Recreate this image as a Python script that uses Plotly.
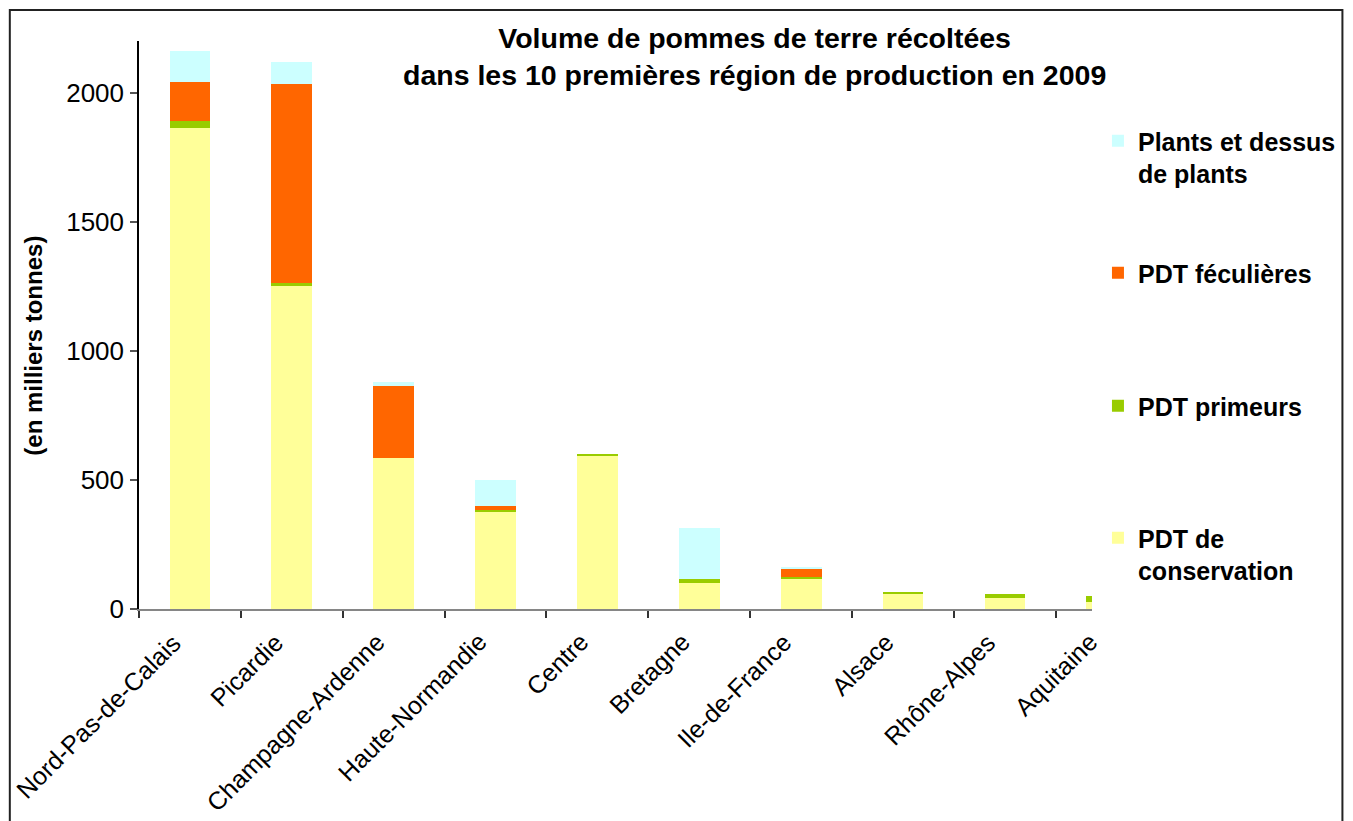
import plotly.graph_objects as go

# ---- data (milliers de tonnes) ----
regions = ["Nord-Pas-de-Calais", "Picardie", "Champagne-Ardenne", "Haute-Normandie",
           "Centre", "Bretagne", "Ile-de-France", "Alsace", "Rhône-Alpes", "Aquitaine"]
conservation = [1864, 1252, 585, 376, 593, 101, 116, 58, 43, 27]
primeurs = [25, 12, 0, 8, 8, 15, 8, 8, 15, 23]
feculieres = [154, 771, 279, 15, 0, 0, 31, 0, 0, 0]
plants = [120, 85, 16, 101, 0, 198, 8, 0, 0, 0]

series_names = ["PDT de<br>conservation", "PDT primeurs", "PDT féculières",
                "Plants et dessus<br>de plants"]
series_values = [conservation, primeurs, feculieres, plants]
series_colors = ["#FFFF99", "#99CC00", "#FF6600", "#CCFFFF"]
series_legends = ["legend4", "legend3", "legend2", "legend"]

title_lines = ["Volume de pommes de terre récoltées",
               "dans les 10 premières région de production en 2009"]
y_title = "(en milliers tonnes)"
y_ticks = [0, 500, 1000, 1500, 2000]

# ---- geometry (screen pixels; page body has an 8px margin) ----
OFF = 8
W, H = 1353 - OFF, 821 - OFF
L, R, T, B = 139, 1098, 41, 609
X_RANGE = [-0.5, 8.855]


def px2x(px):
    return (px - L) / (R - L)


def py2y(py):
    return (B - py) / (B - T)


FONT = "Liberation Sans, Arial, sans-serif"

fig = go.Figure()
for name, vals, col, lg in zip(series_names, series_values, series_colors, series_legends):
    fig.add_trace(go.Bar(
        x=regions, y=vals, name=name, width=0.4,
        marker=dict(color=col, line=dict(width=0)),
        legend=lg,
    ))

legend_common = dict(
    xanchor="left", yanchor="top", valign="top",
    font=dict(family=FONT, size=25, color="black", weight="bold"),
    bgcolor="rgba(0,0,0,0)", borderwidth=0,
)
legend_tops = {"legend": 118, "legend2": 250, "legend3": 383, "legend4": 515}

annotations = []
# title
annotations.append(dict(
    text="<br>".join(title_lines), xref="paper", yref="paper",
    x=px2x(758), y=py2y(56.5), xanchor="center", yanchor="middle",
    showarrow=False, align="center",
    font=dict(family=FONT, size=28.5, color="black", weight="bold"),
))
# y title
annotations.append(dict(
    text=y_title, xref="paper", yref="paper",
    x=px2x(32), y=py2y(346), xanchor="center", yanchor="middle",
    textangle=-90, showarrow=False,
    font=dict(family=FONT, size=24, color="black", weight="bold"),
))
# category labels (the last category sits beyond the clipped plot edge,
# so labels are placed from the category index along the axis range)
span = X_RANGE[1] - X_RANGE[0]
for i, r in enumerate(regions):
    annotations.append(dict(
        text=r, x=(i - X_RANGE[0]) / span, xref="paper", y=0, yref="paper",
        xanchor="right", yanchor="top", textangle=-45,
        xshift=-1, yshift=-16, showarrow=False,
        font=dict(family=FONT, size=25, color="black"),
    ))

layout = dict(
    width=W, height=H,
    margin=dict(l=L - OFF, r=W - (R - OFF), t=T - OFF, b=H - (B - OFF), pad=0),
    paper_bgcolor="white", plot_bgcolor="white",
    barmode="stack",
    showlegend=True,
    font=dict(family=FONT, color="black"),
    xaxis=dict(
        type="category", range=X_RANGE,
        showticklabels=False, ticks="outside", tickson="boundaries",
        ticklen=7, tickwidth=1.5, tickcolor="#333333",
        showline=True, linecolor="#868686", linewidth=2,
        showgrid=False, zeroline=False,
    ),
    yaxis=dict(
        range=[0, 2200], tickmode="array", tickvals=y_ticks,
        ticks="outside", ticklen=7, tickwidth=1.5, tickcolor="#555555",
        showline=True, linecolor="black", linewidth=1.5,
        showgrid=False, zeroline=False,
        tickfont=dict(family=FONT, size=26, color="black"),
        ticklabelstandoff=1,
    ),
    annotations=annotations,
    shapes=[dict(
        type="rect", xref="paper", yref="paper",
        x0=px2x(9), x1=px2x(1350), y0=py2y(10), y1=py2y(840),
        line=dict(color="#222222", width=2), fillcolor="rgba(0,0,0,0)", layer="above",
    )],
)
for lg, top in legend_tops.items():
    layout[lg] = dict(legend_common, x=px2x(1104), y=py2y(top))

fig.update_layout(**layout)
fig.write_html("out.html")
